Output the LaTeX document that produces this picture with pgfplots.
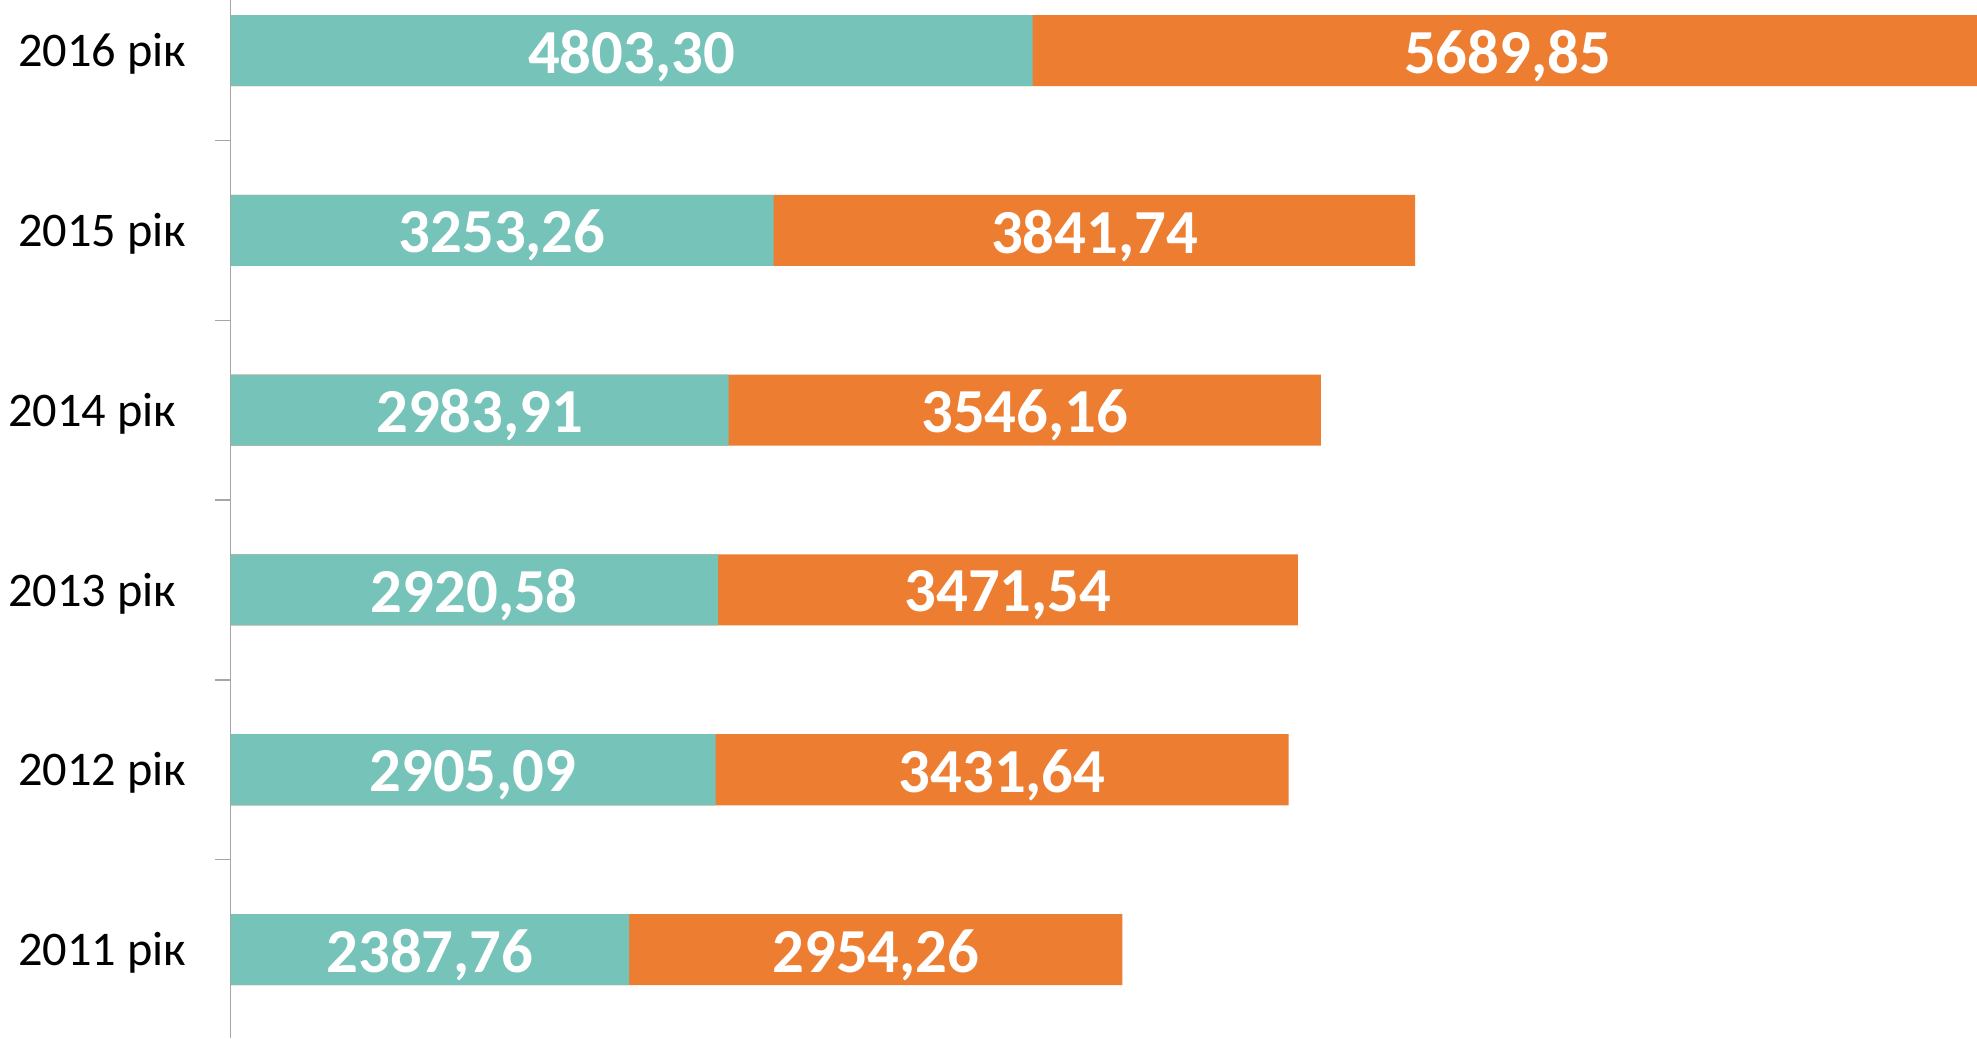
\documentclass[border=0pt]{standalone}
\usepackage{pgfplots}
\pgfplotsset{compat=1.18}
\usepackage{pgfplotstable}
\usepackage{fontspec}
\setmainfont{Carlito}

\definecolor{tealbar}{RGB}{118,195,186}
\definecolor{orangebar}{RGB}{237,125,49}

% idx 0 = 2011 (bottom) ... 5 = 2016 (top)
\pgfplotstableread{
idx a b
0 2387.76 2954.26
1 2905.09 3431.64
2 2920.58 3471.54
3 2983.91 3546.16
4 3253.26 3841.74
5 4803.30 5689.85
}\data

\begin{document}
\begin{tikzpicture}
\begin{axis}[
    scale only axis,
    width=523.95pt,
    height=311.4pt,
    xmin=0, xmax=10460,
    ymin=-0.492, ymax=5.281,
    axis x line=none,
    axis y line*=left,
    axis line style={draw=black!35, line width=0.4pt},
    ytick={0,1,2,3,4,5},
    yticklabels={2011 рік, 2012 рік, 2013 рік\kern3pt, 2014 рік\kern3pt, 2015 рік, 2016 рік},
    major tick length=0pt,
    minor ytick={0.5,1.5,2.5,3.5,4.5},
    minor tick length=4.5pt,
    tick align=outside,
    minor tick style={draw=black!35, line width=0.4pt},
    yticklabel style={font=\fontsize{14.5}{17}\selectfont, text=black, inner sep=0pt, xshift=-13.1pt, yshift=-1pt},
    bar width=0.395,
]
\addplot[xbar, bar shift=0pt, fill=orangebar, draw=none]
    table[x expr=\thisrow{a}+\thisrow{b}, y=idx] {\data};
\addplot[xbar, bar shift=0pt, fill=tealbar, draw=none]
    table[x=a, y=idx] {\data};
% value labels, centred in each segment
\addplot[draw=none, mark=none, nodes near coords, point meta=explicit,
    every node near coord/.style={anchor=center, text=white, yshift=-1.6pt,
        font=\fontsize{18.8}{22}\selectfont\bfseries,
        /pgf/number format/.cd, assume math mode=true, fixed, fixed zerofill, precision=2, use comma, 1000 sep={}}]
    table[x expr=\thisrow{a}/2, y=idx, meta=a] {\data};
\addplot[draw=none, mark=none, nodes near coords, point meta=explicit,
    every node near coord/.style={anchor=center, text=white, yshift=-1.6pt,
        font=\fontsize{18.8}{22}\selectfont\bfseries,
        /pgf/number format/.cd, assume math mode=true, fixed, fixed zerofill, precision=2, use comma, 1000 sep={}}]
    table[x expr=\thisrow{a}+\thisrow{b}/2, y=idx, meta=b] {\data};
\end{axis}
\pgfresetboundingbox
\path ([xshift=-69.15pt]current axis.south west) rectangle (current axis.north east);
\end{tikzpicture}
\end{document}
